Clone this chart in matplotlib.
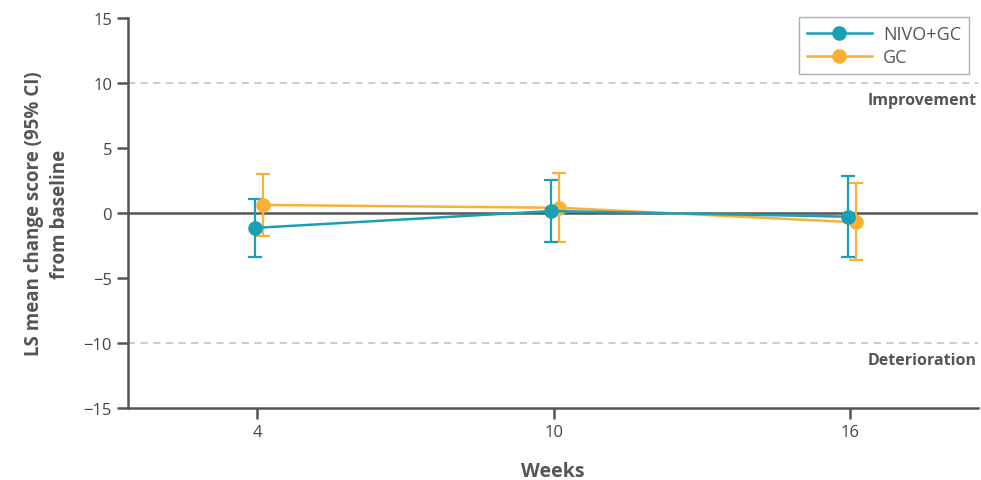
import matplotlib.pyplot as plt

# semanas de evaluación y cambio medio LS con IC 95%
weeks = [4, 10, 16]
nivo_mean = [-1.15, 0.15, -0.28]
nivo_low = [-3.4, -2.25, -3.4]
nivo_high = [1.05, 2.55, 2.85]
gc_mean = [0.62, 0.4, -0.72]
gc_low = [-1.8, -2.25, -3.6]
gc_high = [3.0, 3.1, 2.28]

teal = '#1a9fb5'
orange = '#fbb034'
gray = '#555555'

plt.rcParams['font.family'] = ['Open Sans', 'DejaVu Sans']

fig = plt.figure(figsize=(9.81, 4.81), dpi=100)
ax = fig.add_axes([0.1305, 0.1497, 0.8665, 0.8108])

# desplazamiento horizontal para que las barras no se solapen
dx_nivo = -0.05
dx_gc = 0.12

def draw(offset, mean, low, high, color, label):
    x = [w + offset for w in weeks]
    yerr = [[m - l for m, l in zip(mean, low)], [h - m for m, h in zip(mean, high)]]
    ax.errorbar(x, mean, yerr=yerr, fmt='none', ecolor=color, elinewidth=1.6,
                capsize=5, capthick=1.6, zorder=3)
    ax.plot(x, mean, color=color, lw=1.8, marker='o', ms=9.5, label=label, zorder=4)

ax.axhline(0, color=gray, lw=1.8, zorder=2)
ax.axhline(10, color='#c8c8c8', lw=1.3, ls=(0, (4, 3)), zorder=1)
ax.axhline(-10, color='#c8c8c8', lw=1.3, ls=(0, (4, 3)), zorder=1)

draw(dx_gc, gc_mean, gc_low, gc_high, orange, 'GC')
draw(dx_nivo, nivo_mean, nivo_low, nivo_high, teal, 'NIVO+GC')

ax.set_xlim(1.39, 18.59)
ax.set_ylim(-15, 15)
ax.set_xticks(weeks)
ax.set_yticks(range(-15, 16, 5))
ax.set_yticklabels(['\u221215', '\u221210', '\u22125', '0', '5', '10', '15'])

for s in ['top', 'right']:
    ax.spines[s].set_visible(False)
for s in ['left', 'bottom']:
    ax.spines[s].set_color(gray)
    ax.spines[s].set_linewidth(1.8)
ax.tick_params(colors=gray, labelcolor='#444444', labelsize=12, length=8, width=1.8)

ax.set_xlabel('Weeks', fontsize=14, fontweight='bold', color=gray, labelpad=15)
ax.set_ylabel('LS mean change score (95% CI)\nfrom baseline', fontsize=13.5,
              fontweight='bold', color=gray, labelpad=10, linespacing=1.35)

ax.text(0.998, 10 - 1.3, 'Improvement', transform=ax.get_yaxis_transform(),
        ha='right', va='center', fontsize=11.5, fontweight='bold', color=gray)
ax.text(0.998, -10 - 1.3, 'Deterioration', transform=ax.get_yaxis_transform(),
        ha='right', va='center', fontsize=11.5, fontweight='bold', color=gray)

handles, labels = ax.get_legend_handles_labels()
leg = ax.legend(handles[::-1], labels[::-1], loc='upper right', bbox_to_anchor=(1.0, 1.025),
                fontsize=13, frameon=True, fancybox=False, edgecolor='#9a9a9a',
                handlelength=3.6, borderpad=0.45, labelspacing=0.25, handletextpad=0.6)
for t in leg.get_texts():
    t.set_color(gray)
leg.get_frame().set_linewidth(1.0)

fig.savefig('out.png', dpi=100)
